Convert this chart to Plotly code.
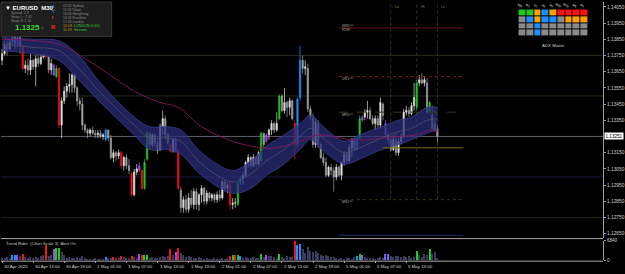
import plotly.graph_objects as go

W, H = 625, 274
def px(v):
    return v / W
def py(v):
    return 1 - v / H

FONT = "Liberation Sans"

# ---------------- data ----------------
bar_index = list(range(169))

opens = [1.1372,1.1376,1.1381,1.1379,1.1383,1.1386,1.1382,1.1386,1.1381,1.1367,
 1.1369,1.1366,1.1372,1.1368,1.1373,1.1370,1.1374,1.1375,1.1374,1.1366,
 1.1369,1.1362,1.1367,1.1332,1.1347,1.1353,1.1356,1.1357,1.1363,1.1355,
 1.1347,1.1345,1.1332,1.1329,1.1327,1.1329,1.1327,1.1326,1.1327,1.1325,
 1.1323,1.1329,1.1324,1.1312,1.1315,1.1313,1.1315,1.1307,1.1312,1.1307,
 1.1302,1.1289,1.1303,1.1304,1.1304,1.1293,1.1311,1.1327,1.1320,1.1326,
 1.1321,1.1317,1.1331,1.1336,1.1326,1.1320,1.1316,1.1323,1.1316,1.1292,
 1.1281,1.1286,1.1280,1.1287,1.1283,1.1291,1.1283,1.1289,1.1293,1.1285,
 1.1290,1.1287,1.1289,1.1286,1.1289,1.1287,1.1297,1.1293,1.1296,1.1283,
 1.1284,1.1283,1.1296,1.1299,1.1301,1.1309,1.1312,1.1307,1.1312,1.1308,
 1.1310,1.1327,1.1322,1.1326,1.1329,1.1333,1.1329,1.1336,1.1350,1.1341,
 1.1346,1.1343,1.1347,1.1333,1.1320,1.1349,1.1372,1.1367,1.1367,1.1342,
 1.1337,1.1320,1.1333,1.1320,1.1312,1.1309,1.1301,1.1306,1.1304,1.1300,
 1.1306,1.1301,1.1309,1.1314,1.1310,1.1318,1.1323,1.1317,1.1324,1.1335,
 1.1337,1.1340,1.1341,1.1336,1.1333,1.1336,1.1332,1.1345,1.1333,1.1326,
 1.1323,1.1317,1.1323,1.1315,1.1322,1.1325,1.1340,1.1341,1.1339,1.1344,
 1.1343,1.1358,1.1360,1.1358,1.1358,1.1340,1.1338,1.1333,1.1330]

closes = [1.1376,1.1381,1.1379,1.1383,1.1386,1.1382,1.1386,1.1381,1.1367,1.1369,
 1.1366,1.1372,1.1368,1.1373,1.1370,1.1374,1.1375,1.1374,1.1366,1.1370,
 1.1363,1.1367,1.1332,1.1347,1.1353,1.1356,1.1357,1.1363,1.1355,1.1347,
 1.1345,1.1332,1.1329,1.1327,1.1329,1.1327,1.1326,1.1327,1.1325,1.1326,
 1.1329,1.1324,1.1312,1.1315,1.1313,1.1315,1.1307,1.1312,1.1307,1.1304,
 1.1289,1.1303,1.1305,1.1307,1.1293,1.1309,1.1327,1.1320,1.1326,1.1321,
 1.1316,1.1331,1.1336,1.1326,1.1321,1.1316,1.1323,1.1316,1.1293,1.1281,
 1.1286,1.1280,1.1287,1.1283,1.1291,1.1283,1.1289,1.1293,1.1285,1.1290,
 1.1287,1.1289,1.1286,1.1289,1.1287,1.1297,1.1293,1.1295,1.1283,1.1284,
 1.1284,1.1296,1.1299,1.1301,1.1309,1.1312,1.1307,1.1312,1.1308,1.1315,
 1.1327,1.1320,1.1326,1.1329,1.1333,1.1329,1.1333,1.1350,1.1341,1.1346,
 1.1343,1.1347,1.1336,1.1320,1.1348,1.1372,1.1367,1.1368,1.1342,1.1337,
 1.1320,1.1334,1.1320,1.1312,1.1309,1.1301,1.1306,1.1304,1.1300,1.1306,
 1.1301,1.1309,1.1314,1.1310,1.1318,1.1323,1.1317,1.1324,1.1336,1.1337,
 1.1340,1.1341,1.1336,1.1333,1.1336,1.1332,1.1346,1.1338,1.1326,1.1323,
 1.1317,1.1323,1.1315,1.1322,1.1325,1.1340,1.1341,1.1339,1.1344,1.1349,
 1.1358,1.1360,1.1358,1.1360,1.1340,1.1346,1.1330,1.1329,1.1325]

highs = [1.1379,1.1384,1.1384,1.1385,1.1387,1.1387,1.1387,1.1387,1.1382,1.1372,
 1.1373,1.1376,1.1373,1.1375,1.1375,1.1376,1.1376,1.1376,1.1375,1.1373,
 1.1370,1.1369,1.1368,1.1349,1.1356,1.1358,1.1364,1.1364,1.1364,1.1356,
 1.1349,1.1349,1.1333,1.1330,1.1330,1.1331,1.1329,1.1329,1.1329,1.1327,
 1.1330,1.1329,1.1326,1.1317,1.1316,1.1317,1.1316,1.1313,1.1314,1.1311,
 1.1303,1.1305,1.1308,1.1309,1.1305,1.1311,1.1329,1.1328,1.1327,1.1327,
 1.1323,1.1333,1.1341,1.1338,1.1327,1.1321,1.1324,1.1324,1.1317,1.1294,
 1.1288,1.1289,1.1290,1.1292,1.1293,1.1293,1.1290,1.1295,1.1294,1.1292,
 1.1291,1.1290,1.1290,1.1291,1.1292,1.1298,1.1298,1.1297,1.1297,1.1287,
 1.1287,1.1297,1.1301,1.1303,1.1310,1.1314,1.1313,1.1314,1.1313,1.1316,
 1.1328,1.1327,1.1327,1.1330,1.1335,1.1334,1.1340,1.1351,1.1351,1.1355,
 1.1347,1.1349,1.1348,1.1335,1.1349,1.1381,1.1375,1.1372,1.1370,1.1344,
 1.1339,1.1336,1.1335,1.1321,1.1315,1.1312,1.1307,1.1308,1.1306,1.1308,
 1.1307,1.1310,1.1316,1.1315,1.1320,1.1324,1.1324,1.1325,1.1338,1.1338,
 1.1342,1.1347,1.1343,1.1338,1.1338,1.1338,1.1349,1.1346,1.1335,1.1328,
 1.1324,1.1326,1.1327,1.1324,1.1327,1.1342,1.1344,1.1343,1.1346,1.1358,
 1.1360,1.1363,1.1364,1.1362,1.1361,1.1347,1.1344,1.1335,1.1332]

lows = [1.1369,1.1375,1.1375,1.1378,1.1381,1.1379,1.1380,1.1376,1.1366,1.1364,
 1.1363,1.1363,1.1366,1.1356,1.1368,1.1369,1.1373,1.1373,1.1364,1.1363,
 1.1362,1.1361,1.1330,1.1324,1.1345,1.1349,1.1352,1.1352,1.1352,1.1344,
 1.1341,1.1329,1.1327,1.1324,1.1325,1.1326,1.1324,1.1324,1.1324,1.1323,
 1.1322,1.1322,1.1311,1.1309,1.1310,1.1311,1.1305,1.1304,1.1305,1.1302,
 1.1288,1.1288,1.1301,1.1303,1.1292,1.1292,1.1310,1.1317,1.1318,1.1318,
 1.1314,1.1316,1.1326,1.1323,1.1320,1.1315,1.1315,1.1315,1.1292,1.1278,
 1.1278,1.1278,1.1278,1.1281,1.1280,1.1280,1.1279,1.1284,1.1283,1.1283,
 1.1285,1.1285,1.1284,1.1284,1.1285,1.1286,1.1291,1.1290,1.1280,1.1280,
 1.1281,1.1282,1.1295,1.1295,1.1300,1.1306,1.1305,1.1306,1.1306,1.1307,
 1.1309,1.1318,1.1321,1.1323,1.1326,1.1327,1.1328,1.1335,1.1340,1.1339,
 1.1337,1.1338,1.1335,1.1311,1.1318,1.1347,1.1364,1.1363,1.1340,1.1335,
 1.1318,1.1318,1.1318,1.1311,1.1307,1.1300,1.1300,1.1301,1.1291,1.1298,
 1.1300,1.1298,1.1307,1.1308,1.1309,1.1312,1.1316,1.1316,1.1324,1.1334,
 1.1335,1.1336,1.1335,1.1332,1.1329,1.1330,1.1330,1.1335,1.1325,1.1321,
 1.1316,1.1316,1.1313,1.1313,1.1320,1.1324,1.1338,1.1337,1.1338,1.1341,
 1.1341,1.1356,1.1357,1.1356,1.1339,1.1339,1.1329,1.1328,1.1321]

volumes = [1030,1030,1370,1030,2050,2050,2050,1710,2390,1370,
 1030,1370,1030,1370,1030,1710,2050,5470,1710,2050,
 4100,4450,4450,3080,2050,1030,1370,1030,1030,1370,
 1030,1710,1030,680,680,680,1030,680,680,680,
 1370,1030,1030,1370,1030,1030,1710,1370,1030,1030,
 1710,1370,1030,2390,2050,2050,2050,1030,1370,1030,
 1030,1370,1710,1370,1710,4100,2050,3080,4450,2740,
 2050,1370,1710,1370,1030,1030,1370,1030,680,1030,
 680,680,1030,680,680,1030,680,1030,1710,2050,
 2050,2050,1710,1030,1370,1030,1030,1370,1030,1030,
 2390,1370,2050,1710,1710,1370,1030,2390,1370,1030,
 1710,1370,1370,6840,5470,5810,4100,2740,4790,3420,
 3080,3420,2740,2050,1710,2050,1710,1370,1370,1030,
 680,1030,680,1030,1030,680,1370,1710,2390,2050,
 1370,1030,1030,1030,680,1030,1370,1030,2390,2390,
 1710,1370,1710,1710,1370,1710,1370,1710,1030,1370,
 3420,2050,1370,2390,2050,4100,2390,3080,1030]

# signal colouring of individual candles / volume bars
candle_marks = {4:'b',6:'p',8:'r',17:'r',20:'p',21:'g',22:'r',40:'b',46:'r',50:'r',53:'p',
                54:'r',55:'g',56:'g',65:'r',67:'p',68:'r',88:'r',91:'g',92:'b',100:'g',
                102:'p',107:'g',113:'r',114:'b',115:'b',137:'b',138:'g',139:'p',148:'p',
                160:'g',165:'g'}
volume_marks = {4:'b',5:'b',6:'p',8:'r',17:'r',20:'p',21:'g',22:'g',40:'b',43:'r',46:'r',
                50:'r',53:'p',54:'r',55:'g',56:'g',65:'r',67:'p',68:'r',88:'r',89:'g',90:'r',
                91:'g',92:'b',100:'g',102:'p',107:'g',113:'r',114:'b',115:'b',137:'b',
                138:'g',139:'p',148:'p',149:'b',160:'g',165:'g'}

# channel band and moving average (read at selected bars)
band_idx = [0,12,22,29,38,51,57,64,69,77,89,96,102,108,115,119,124,132,138,145,153,158,164,168]
band_upper = [1.1386,1.1385,1.1384,1.1376,1.1358,1.1337,1.1331,1.1331,1.1329,1.1315,1.1304,1.1310,
              1.1319,1.1325,1.1333,1.1338,1.1331,1.1322,1.1326,1.1330,1.1335,1.1337,1.1343,1.1343]
band_lower = [1.1378,1.1376,1.1372,1.1361,1.1346,1.1326,1.1317,1.1317,1.1314,1.1301,1.1290,1.1293,
              1.1301,1.1307,1.1317,1.1323,1.1316,1.1308,1.1311,1.1316,1.1320,1.1323,1.1327,1.1329]
band_mid = [1.1382,1.1380,1.1378,1.1368,1.1352,1.1332,1.1324,1.1324,1.1322,1.1308,1.1297,1.1302,
            1.1310,1.1316,1.1325,1.1330,1.1324,1.1315,1.1318,1.1323,1.1328,1.1330,1.1335,1.1336]
ma_idx = [0,22,29,38,51,61,68,77,89,100,106,115,122,128,134,141,147,153,160,165,168]
ma_vals = [1.1385,1.1382,1.1376,1.1367,1.1353,1.1346,1.1343,1.1331,1.1322,1.1318,1.1318,
           1.1322,1.1326,1.1325,1.1323,1.1323,1.1324,1.1325,1.1326,1.1329,1.1328]

round_levels = [1.1375, 1.1350, 1.1325, 1.1300, 1.1275]
round_colors = ["#26261a", "#153015", "#5e5e6a", "#181840", "#1c2a14"]

pivot_levels = [1.1392, 1.1362, 1.1340, 1.1318, 1.1286, 1.1264]
pivot_labels = ["WR1^^", "DR1^^", "MR1^^", "", "MS1^^", "R2L"]
pivot_colors = ["#6e1010", "#7a1a1a", "#383816", "#7c6a00", "#343416", "#15325a"]
pivot_dash = ["solid", "dot", "dash", "solid", "dot", "solid"]
pivot_start = [130, 130, 130, 147, 130, 130]
pivot_end = 178

marker_idx = [150, 160, 168]
marker_text = ["Lo", "Hi", "Lc"]

price_ticks = [1.1405, 1.1395, 1.1385, 1.1375, 1.1365, 1.1355, 1.1345, 1.1335,
               1.1315, 1.1305, 1.1295, 1.1285, 1.1275, 1.1265]
last_price = 1.13251

date_idx = [0,12,24,36,48,60,72,84,96,108,120,132,144,156]
date_labels = ["30 Apr 2025","30 Apr 13:00","30 Apr 19:00","1 May 01:00","1 May 07:00",
               "1 May 13:00","1 May 19:00","2 May 01:00","2 May 07:00","2 May 13:00",
               "2 May 19:00","5 May 01:00","5 May 07:00","5 May 13:00"]

adx_cols = ["MN","W1","D1","H4","H1","M30","M15","M5","M1"]
adx_rows = [[1,1,2,3,2,4,4,4,4],
            [0,3,2,3,3,0,2,2,2],
            [0,0,3,0,0,0,0,0,0],
            [0,0,3,0,0,0,0,0,0]]

# ---------------- figure ----------------
sig_col = {'r': '#f21414', 'g': '#1ccc1c', 'b': '#1e8fff', 'p': '#a347f5'}
NORMAL_VOL = '#3a3a5c'

def sub(arr, idxs):
    return [arr[i] for i in idxs]

fig = go.Figure()

normal = [i for i in bar_index if i not in candle_marks]
fig.add_trace(go.Candlestick(
    x=normal, open=sub(opens, normal), high=sub(highs, normal), low=sub(lows, normal),
    close=sub(closes, normal), whiskerwidth=0,
    increasing=dict(line=dict(color='#e0e0e0', width=0.7), fillcolor='#e0e0e0'),
    decreasing=dict(line=dict(color='#a0a0a0', width=0.7), fillcolor='#a0a0a0'),
    showlegend=False, hoverinfo='skip', xaxis='x', yaxis='y'))
for code, col in sig_col.items():
    idx = [i for i in bar_index if candle_marks.get(i) == code]
    fig.add_trace(go.Candlestick(
        x=idx, open=sub(opens, idx), high=sub(highs, idx), low=sub(lows, idx),
        close=sub(closes, idx), whiskerwidth=0,
        increasing=dict(line=dict(color=col, width=0.7), fillcolor=col),
        decreasing=dict(line=dict(color=col, width=0.7), fillcolor=col),
        showlegend=False, hoverinfo='skip', xaxis='x', yaxis='y'))

# band
fig.add_trace(go.Scatter(x=band_idx, y=band_upper, mode='lines', line=dict(color='#3a3f92', width=0.8, shape='spline'),
                         showlegend=False, hoverinfo='skip'))
fig.add_trace(go.Scatter(x=band_idx, y=band_lower, mode='lines', line=dict(color='#3a3f92', width=0.8, shape='spline'),
                         fill='tonexty', fillcolor='rgba(42,46,122,0.74)', showlegend=False, hoverinfo='skip'))
fig.add_trace(go.Scatter(x=band_idx, y=band_mid, mode='lines', line=dict(color='#55556a', width=0.7, shape='spline'),
                         showlegend=False, hoverinfo='skip'))
fig.add_trace(go.Scatter(x=ma_idx, y=ma_vals, mode='lines', line=dict(color='#84195a', width=0.9, shape='spline'),
                         showlegend=False, hoverinfo='skip'))

# pivot lines
for lvl, col, dash, x0 in zip(pivot_levels, pivot_colors, pivot_dash, pivot_start):
    fig.add_trace(go.Scatter(x=[x0, pivot_end], y=[lvl, lvl], mode='lines',
                             line=dict(color=col, width=1, dash=dash), showlegend=False, hoverinfo='skip'))

# volume
vcols = [sig_col[volume_marks[i]] if i in volume_marks else NORMAL_VOL for i in bar_index]
fig.add_trace(go.Bar(x=bar_index, y=volumes, marker=dict(color=vcols, line=dict(width=0)), width=0.45,
                     xaxis='x2', yaxis='y2', showlegend=False, hoverinfo='skip'))

# ADX matrix
scale = [[0, '#8a8a8a'], [0.2, '#8a8a8a'], [0.2, '#22c822'], [0.4, '#22c822'],
         [0.4, '#ffa200'], [0.6, '#ffa200'], [0.6, '#1e8fff'], [0.8, '#1e8fff'],
         [0.8, '#ff1010'], [1, '#ff1010']]
fig.add_trace(go.Heatmap(z=adx_rows, x=adx_cols, y=[0, 1, 2, 3], colorscale=scale, zmin=-0.5, zmax=4.5,
                         showscale=False, xgap=1, ygap=1, xaxis='x3', yaxis='y3', hoverinfo='skip'))

shapes = []
annotations = []
XR = [-0.385, 231.92]
xdom = [0, px(604)]

for lvl, col in zip(round_levels, round_colors):
    shapes.append(dict(type='line', xref='paper', yref='y', x0=0, x1=px(604), y0=lvl, y1=lvl,
                       line=dict(color=col, width=1), layer='below'))
for xi in marker_idx:
    shapes.append(dict(type='line', xref='x', yref='y', x0=xi, x1=xi, y0=1.1286, y1=1.1408,
                       line=dict(color='#34341a', width=1, dash='dot'), layer='below'))
# separators
shapes.append(dict(type='line', xref='paper', yref='paper', x0=0, x1=px(604), y0=py(241), y1=py(241),
                   line=dict(color='#a8a8a8', width=1)))
shapes.append(dict(type='line', xref='paper', yref='paper', x0=0, x1=px(604), y0=py(264), y1=py(264),
                   line=dict(color='#a8a8a8', width=1)))
# info panel
shapes.append(dict(type='rect', xref='paper', yref='paper', x0=0, x1=px(111), y0=py(35), y1=1,
                   fillcolor='#1e1e1e', line=dict(color='#3a3a3a', width=1)))

def ann(x, y, text, size, color, xref='paper', yref='paper', xanchor='left', bold=False, **kw):
    annotations.append(dict(x=x, y=y, xref=xref, yref=yref, text=('<b>%s</b>' % text) if bold else text,
                            showarrow=False, xanchor=xanchor, yanchor='middle',
                            font=dict(family=FONT, size=size, color=color), **kw))

for xi, t in zip(date_idx, date_labels):
    ann(xi, py(269), t, 4.4, '#d2d2d2', xref='x2')

ann(px(3), py(245.5), 'Trend Rider  (Chart Scale 3)  Alert On', 4.2, '#c8c8c8')

for lvl, lab in zip(pivot_levels, pivot_labels):
    if not lab:
        continue
    if lab == "WR1^^":
        ann(130.5, lvl + 0.00012, lab, 3.6, '#a8a8a8', xref='x', yref='y')
        ann(130.5, lvl - 0.00012, "R2W", 3.6, '#a8a8a8', xref='x', yref='y')
    else:
        ann(130.5, lvl - 0.00015, lab, 3.6, '#a8a8a8', xref='x', yref='y')

for xi, t in zip(marker_idx, marker_text):
    ann(xi + 0.8, py(5), t, 3.8, '#8c7a40', xref='x')

ann(px(554), py(44), 'ADX Matrix', 4.4, '#d0d0d0', xanchor='center')

# current price tag
annotations.append(dict(x=px(604.5), y=last_price, xref='paper', yref='y', text='1.13251', showarrow=False,
                        xanchor='left', yanchor='middle', bgcolor='#ffffff', borderpad=0.5,
                        font=dict(family=FONT, size=4.6, color='#000000')))

# info panel text
ann(px(2.5), py(6), '▼ EURUSD  M30', 6, '#ffffff', bold=True)
ann(px(8), py(11), 'Spread: 0.3', 3.4, '#8a8a8a')
ann(px(8), py(15), 'Swap L: -7.41', 3.4, '#8a8a8a')
ann(px(8), py(19), 'Swap S: 2.10', 3.4, '#8a8a8a')
ann(px(12), py(26), '1.1325', 8, '#34d834', bold=True)
ann(px(39), py(26), 't', 4, '#a0a0a0')
ann(px(49), py(5), 'S', 4, '#1e8fff', bold=True)
ann(px(49), py(10), 'T', 4, '#1e8fff', bold=True)
ann(px(49), py(16), 'I', 4, '#ff5a3c', bold=True)
ann(px(48.5), py(25), 'R', 6, '#ff2020', bold=True)
for k, t in enumerate(['01:03 Sydney', '11:03 Tokyo', '16:03 HongKong', '16:03 Frankfurt', '17:03 London']):
    ann(px(60), py(4 + 4 * k), t, 3.4, '#8a8a8a')
ann(px(60), py(24.5), '12:03', 3.6, '#c89a20')
ann(px(71), py(24.5), 'LONDON (0:41)', 3.6, '#3cc83c')
ann(px(60), py(29), '11:19', 3.6, '#c89a20')
ann(px(71), py(29), 'Session', 3.6, '#3cc83c')

axis_common = dict(showgrid=False, zeroline=False, fixedrange=True)

fig.update_layout(
    width=W, height=H, margin=dict(l=0, r=0, t=0, b=0),
    paper_bgcolor='#000000', plot_bgcolor='#000000',
    font=dict(family=FONT, color='#d0d0d0'),
    showlegend=False, bargap=0,
    xaxis=dict(domain=xdom, range=XR, anchor='y', showticklabels=False, rangeslider=dict(visible=False),
               **axis_common),
    yaxis=dict(domain=[py(240), 1], range=[1.126256, 1.1408], anchor='x', side='right',
               tickvals=price_ticks, ticktext=['%.5f' % v for v in price_ticks],
               tickfont=dict(size=4.8, color='#d0d0d0', family=FONT), ticks='outside', ticklen=2,
               tickcolor='#9a9a9a', showline=True, linecolor='#9a9a9a', linewidth=1, **axis_common),
    xaxis2=dict(domain=xdom, range=XR, anchor='y2', tickvals=date_idx, showticklabels=False,
                ticks='outside', ticklen=2, tickcolor='#9a9a9a', **axis_common),
    yaxis2=dict(domain=[py(263), py(243)], range=[0, 6840], anchor='x2', side='right',
                tickvals=[0, 6840], ticktext=['0', '6840'], ticks='outside', ticklen=2, tickcolor='#9a9a9a',
                tickfont=dict(size=4.5, color='#d0d0d0', family=FONT),
                showline=True, linecolor='#9a9a9a', linewidth=1, **axis_common),
    xaxis3=dict(domain=[px(519), px(589)], anchor='y3', side='top', ticks='', showline=False,
                tickfont=dict(size=3, color='#e0e0e0', family=FONT), **axis_common),
    yaxis3=dict(domain=[py(35), py(7.5)], anchor='x3', range=[3.5, -0.5], showticklabels=False,
                **axis_common),
    shapes=shapes, annotations=annotations,
)

fig.write_html("out.html")
